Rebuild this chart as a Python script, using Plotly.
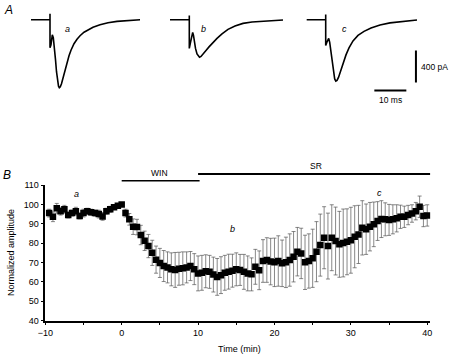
import plotly.graph_objects as go

# ---------------- Panel B data ----------------
time_min = [-9.5, -9.0, -8.5, -8.0, -7.5, -7.0, -6.5, -6.0, -5.5, -5.0,
            -4.5, -4.0, -3.5, -3.0, -2.5, -2.0, -1.5, -1.0, -0.5, 0.0,
            0.5, 1.0, 1.5, 2.0, 2.5, 3.0, 3.5, 4.0, 4.5, 5.0,
            5.5, 6.0, 6.5, 7.0, 7.5, 8.0, 8.5, 9.0, 9.5, 10.0,
            10.5, 11.0, 11.5, 12.0, 12.5, 13.0, 13.5, 14.0, 14.5, 15.0,
            15.5, 16.0, 16.5, 17.0, 17.5, 18.0, 18.5, 19.0, 19.5, 20.0,
            20.5, 21.0, 21.5, 22.0, 22.5, 23.0, 23.5, 24.0, 24.5, 25.0,
            25.5, 26.0, 26.5, 27.0, 27.5, 28.0, 28.5, 29.0, 29.5, 30.0,
            30.5, 31.0, 31.5, 32.0, 32.5, 33.0, 33.5, 34.0, 34.5, 35.0,
            35.5, 36.0, 36.5, 37.0, 37.5, 38.0, 38.5, 39.0, 39.5, 40.0]

amplitude = [95.5, 93.6, 98.0, 96.5, 97.5, 94.5, 95.5, 96.5, 94.0, 95.5,
             96.5, 96.0, 95.5, 95.0, 93.8, 96.5, 97.5, 98.5, 99.3, 100.0,
             95.5, 92.3, 88.5, 88.3, 84.2, 81.2, 78.5, 75.0, 71.5, 69.8,
             68.2, 67.5, 66.5, 66.2, 66.8, 67.0, 67.5, 68.2, 66.6, 64.4,
             64.7, 65.5, 65.2, 63.8, 62.6, 63.5, 64.7, 65.3, 65.8, 66.5,
             66.2, 65.2, 64.4, 63.9, 67.8, 66.0, 70.8, 71.3, 70.5, 70.1,
             70.8, 69.6, 70.1, 71.3, 73.0, 75.6, 74.7, 70.1, 70.8, 72.2,
             75.6, 79.0, 82.8, 78.5, 82.8, 81.1, 79.4, 80.1, 80.7, 81.5,
             83.3, 84.5, 87.9, 87.2, 88.5, 89.7, 91.4, 92.4, 92.3, 92.0,
             92.3, 92.8, 93.6, 93.6, 94.5, 95.3, 96.5, 98.8, 94.0, 94.3]

sem = [2.0, 2.5, 2.5, 2.0, 2.0, 1.5, 1.5, 2.0, 1.5, 2.0,
       1.5, 1.5, 1.5, 2.0, 2.0, 1.5, 1.5, 1.0, 1.0, 0.5,
       2.0, 3.0, 4.0, 4.0, 5.0, 5.0, 6.0, 6.5, 7.0, 7.5,
       8.0, 8.0, 8.5, 9.0, 8.5, 8.5, 8.0, 7.5, 8.0, 9.0,
       9.0, 8.5, 8.5, 9.0, 9.5, 9.5, 9.0, 9.0, 8.5, 8.5,
       8.0, 9.0, 9.0, 8.5, 9.0, 10.0, 11.0, 11.5, 12.0, 12.5,
       13.0, 12.0, 13.0, 13.5, 13.0, 12.5, 13.0, 14.0, 14.0, 15.0,
       15.5, 16.0, 16.0, 17.0, 17.0, 17.5, 17.0, 17.5, 17.0, 17.0,
       16.0, 15.0, 14.0, 13.0, 12.5, 11.5, 10.0, 9.5, 8.5, 8.0,
       7.5, 7.0, 6.0, 5.5, 5.0, 4.5, 4.5, 5.5, 5.5, 5.5]

win_period = [0.0, 10.2]
sr_period = [10.0, 40.4]
x_ticks = [-10, 0, 10, 20, 30, 40]
y_ticks = [40, 50, 60, 70, 80, 90, 100, 110]

# ---------------- Panel A data (ms, pA) ----------------
trace_a_t = [-5.94, 0, 0, 0, 0.31, 0.72, 1.03, 1.41, 1.72, 2.03, 2.34, 2.66, 2.91, 3.22,
             3.59, 4.06, 4.69, 5.31, 5.94, 6.56, 7.5, 8.44, 9.38, 10.63, 11.88, 13.44,
             15.63, 18.13, 20.94, 24.38, 28.13]
trace_a_i = [0, 0, 75, -350, -313, -188, -225, -350, -500, -650, -763, -831, -850, -838,
             -800, -725, -625, -525, -450, -381, -300, -244, -200, -156, -125, -94,
             -63, -38, -21, -8, 0]

trace_b_t = [-6.03, 0, 0, 0, 0.38, 0.78, 1.06, 1.31, 1.63, 1.94, 2.41, 2.88, 3.19, 3.66,
             4.28, 5.22, 6.16, 7.41, 8.66, 10.22, 12.09, 14.28, 16.78, 19.59, 23.66, 29.28]
trace_b_i = [0, 0, 54, -359, -284, -171, -159, -196, -284, -359, -428, -463, -469, -459,
             -434, -384, -340, -284, -234, -178, -121, -78, -46, -28, -15, -3]

trace_c_t = [-5.94, 0, 0, 0, 0.34, 0.66, 0.94, 1.25, 1.66, 2.06, 2.44, 2.81, 3.16, 3.53,
             4.0, 4.63, 5.41, 6.34, 7.28, 8.53, 10.09, 11.97, 14.16, 16.97, 20.09, 23.84, 28.53]
trace_c_i = [0, 0, 66, -321, -284, -240, -234, -284, -409, -546, -659, -740, -768, -759,
             -721, -646, -546, -440, -353, -265, -196, -146, -103, -65, -40, -21, -3]

scale_ms = 10
scale_pA = 400

W, H = 461, 357
FONT = "Arial, Liberation Sans, sans-serif"


def px(x):
    return x / W


def py(y):
    return 1 - y / H


fig = go.Figure()

# Panel B scatter with error bars
fig.add_trace(go.Scatter(
    x=time_min, y=amplitude, mode="markers",
    marker=dict(symbol="square", size=6.5, color="black"),
    error_y=dict(type="data", array=sem, visible=True, color="#555",
                 thickness=0.7, width=2),
    xaxis="x", yaxis="y", showlegend=False))

# Drug application bars (on a strip axis above panel B)
fig.add_trace(go.Scatter(x=win_period, y=[0.17, 0.17], mode="lines",
                         line=dict(color="black", width=1.6),
                         xaxis="x", yaxis="y5", showlegend=False))
fig.add_trace(go.Scatter(x=sr_period, y=[0.44, 0.44], mode="lines",
                         line=dict(color="black", width=2.2),
                         xaxis="x", yaxis="y5", showlegend=False))

# Panel A traces
for tt, ii, ax in [(trace_a_t, trace_a_i, "2"), (trace_b_t, trace_b_i, "3"),
                   (trace_c_t, trace_c_i, "4")]:
    fig.add_trace(go.Scatter(x=tt, y=ii, mode="lines",
                             line=dict(color="black", width=1.6),
                             xaxis="x" + ax, yaxis="y" + ax, showlegend=False))

# Scale bars on trace c axes
sb_x_end = 28.2
sb_y_bottom = -884
fig.add_shape(type="line", xref="x4", yref="y4",
              x0=sb_x_end - scale_ms - 3.0, x1=sb_x_end - 3.0,
              y0=sb_y_bottom, y1=sb_y_bottom, line=dict(color="black", width=2))
fig.add_shape(type="line", xref="x4", yref="y4",
              x0=sb_x_end, x1=sb_x_end, y0=-384, y1=-384 - scale_pA,
              line=dict(color="black", width=2))

x_dom = [px(45.3), px(430.3)]
trace_range = [-6.5, 29.5]
top_dom = [py(95.7), py(9.7)]
hidden = dict(visible=False, showgrid=False, zeroline=False, fixedrange=True,
              automargin=False)

fig.update_layout(
    width=W, height=H,
    margin=dict(l=0, r=0, t=0, b=0, autoexpand=False),
    paper_bgcolor="white", plot_bgcolor="white",
    font=dict(family=FONT, size=9, color="black"),
    xaxis=dict(domain=x_dom, range=[-10, 40.4], tickvals=x_ticks,
               ticks="outside", ticklen=3, tickwidth=1, tickcolor="black",
               minor=dict(dtick=5, tick0=0, ticks="outside", ticklen=3, tickwidth=1, tickcolor="black"),
               showline=True, linecolor="black", linewidth=1.5,
               showgrid=False, zeroline=False, anchor="y", automargin=False,
               tickfont=dict(size=9)),
    yaxis=dict(domain=[py(320.7), py(185)], range=[40, 110], tickvals=y_ticks,
               ticks="outside", ticklen=3, tickwidth=1, tickcolor="black",
               showline=True, linecolor="black", linewidth=1.5,
               showgrid=False, zeroline=False, anchor="x", automargin=False,
               tickfont=dict(size=9)),
    yaxis5=dict(domain=[py(185), py(160)], range=[0, 1], anchor="x", **hidden),
    xaxis2=dict(domain=[px(29.2), px(144.4)], range=trace_range, anchor="y2", **hidden),
    yaxis2=dict(domain=top_dom, range=[-950, 125], anchor="x2", **hidden),
    xaxis3=dict(domain=[px(168.5), px(283.7)], range=trace_range, anchor="y3", **hidden),
    yaxis3=dict(domain=top_dom, range=[-950, 125], anchor="x3", **hidden),
    xaxis4=dict(domain=[px(304.9), px(420.1)], range=trace_range, anchor="y4", **hidden),
    yaxis4=dict(domain=top_dom, range=[-950, 125], anchor="x4", **hidden),
)

ann = []


def add_text(text, x, y, size=9, italic=False, angle=0, xanchor="center"):
    if italic:
        text = "<i>" + text + "</i>"
    ann.append(dict(text=text, x=px(x), y=py(y), xref="paper", yref="paper",
                    showarrow=False, xanchor=xanchor, yanchor="middle",
                    textangle=angle, font=dict(family=FONT, size=size, color="black")))


add_text("A", 8, 10, size=12, italic=True)
add_text("B", 7, 175, size=12, italic=True)
add_text("a", 67, 29, italic=True)
add_text("b", 203, 29, italic=True)
add_text("c", 344, 29, italic=True)
add_text("400 pA", 419, 67, size=8.5, xanchor="left")
add_text("10 ms", 390, 100, size=8.5)
add_text("WIN", 159, 173, size=8.5)
add_text("SR", 316, 166, size=8.5)
add_text("a", 76, 194, italic=True)
add_text("b", 232, 229, italic=True)
add_text("c", 379, 193, italic=True)
add_text("Time (min)", 239, 349, size=9)
add_text("Normalized amplitude", 11, 253, size=9, angle=-90)

fig.update_layout(annotations=ann)

fig.write_html(
    "out.html",
    config={"displayModeBar": False},
    post_script="document.body.style.margin='0';document.body.style.padding='0';"
                "document.body.style.overflow='hidden';",
)
